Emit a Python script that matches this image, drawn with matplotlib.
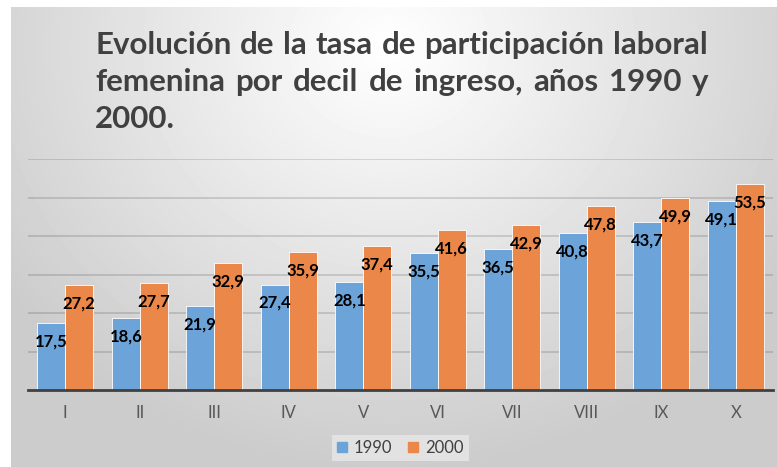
import numpy as np
import matplotlib.pyplot as plt
from matplotlib.patches import Patch

# Datos
deciles = ['I', 'II', 'III', 'IV', 'V', 'VI', 'VII', 'VIII', 'IX', 'X']
tasa_1990 = [17.5, 18.6, 21.9, 27.4, 28.1, 35.5, 36.5, 40.8, 43.7, 49.1]
tasa_2000 = [27.2, 27.7, 32.9, 35.9, 37.4, 41.6, 42.9, 47.8, 49.9, 53.5]
series = ['1990', '2000']
titulo = ['Evolución de la tasa de participación laboral',
          'femenina por decil de ingreso, años 1990 y',
          '2000.']

azul = '#6ca4d9'
naranja = '#eb8748'
W, H = 777, 467

fig = plt.figure(figsize=(W / 100, H / 100), dpi=100)
fig.patch.set_facecolor('white')

# Fondo con degradado radial
bg = fig.add_axes([0, 0, 1, 1])
bg.set_xlim(0, W)
bg.set_ylim(H, 0)
bg.axis('off')
yy, xx = np.mgrid[7:H, 11:W]
d = np.sqrt(((xx / W - 0.5) / 0.6) ** 2 + ((yy / H - 0.1) / 0.9) ** 2)
v = 1 - 0.2 * np.clip(d, 0, 1)
bg.imshow(v, cmap='gray', vmin=0, vmax=1, extent=(11, W, H, 7),
          aspect='auto', interpolation='bilinear')

# Grafico de barras
ax = fig.add_axes([28 / W, (H - 390) / H, (773 - 28) / W, (390 - 159) / H])
ax.set_facecolor('none')
x = np.arange(len(deciles))
w = 0.375
b1 = ax.bar(x - w / 2, tasa_1990, w, color=azul, edgecolor='white', linewidth=0.6, zorder=3)
b2 = ax.bar(x + w / 2, tasa_2000, w, color=naranja, edgecolor='white', linewidth=0.6, zorder=3)

for bars, vals in [(b1, tasa_1990), (b2, tasa_2000)]:
    for r, val in zip(bars, vals):
        ax.annotate(f'{val:.1f}'.replace('.', ','),
                    (r.get_x() + r.get_width() / 2, val),
                    xytext=(0, -18.5), textcoords='offset pixels',
                    ha='center', va='center', fontsize=12,
                    fontweight='bold', family='Lato', color='black', zorder=4)

ax.set_xlim(-0.5, len(deciles) - 0.5)
ax.set_ylim(0, 60)
ax.set_yticks(np.arange(10, 61, 10))
ax.yaxis.grid(True, color='black', alpha=0.14, linewidth=1.3)
ax.set_axisbelow(True)
ax.tick_params(axis='y', left=False, labelleft=False)
ax.tick_params(axis='x', length=0, pad=11)
ax.set_xticks(x)
ax.set_xticklabels(deciles, fontsize=12, family='Lato', color='#595959')
for s in ['top', 'left', 'right']:
    ax.spines[s].set_visible(False)
ax.spines['bottom'].set_color('#404040')
ax.spines['bottom'].set_linewidth(2)
ax.spines['bottom'].set_zorder(5)

# Leyenda
handles = [Patch(color=azul, label=series[0]), Patch(color=naranja, label=series[1])]
leg = fig.legend(handles=handles, loc='center', bbox_to_anchor=(400 / W, 1 - 448 / H),
                 ncol=2, frameon=True, fancybox=False, handlelength=0.6,
                 handleheight=0.6, handletextpad=0.4, columnspacing=1.0,
                 prop={'family': 'Lato', 'size': 12}, borderpad=0.3)
leg.get_frame().set_facecolor('#e2e2e2')
leg.get_frame().set_edgecolor('none')
leg.get_frame().set_alpha(1)
for t in leg.get_texts():
    t.set_color('#404040')

# Titulo justificado
renderer = fig.canvas.get_renderer()
x0, x1 = 95, 708
ys = [45, 82, 119]
for i, (linea, ylin) in enumerate(zip(titulo, ys)):
    palabras = linea.split(' ')
    textos = []
    for p in palabras:
        t = bg.text(0, ylin, p, fontsize=22.5, fontweight='bold', family='Lato',
                    color='#404040', va='center', ha='left')
        textos.append(t)
    anchos = [t.get_window_extent(renderer).width for t in textos]
    if i < len(titulo) - 1 and len(palabras) > 1:
        hueco = (x1 - x0 - sum(anchos)) / (len(palabras) - 1)
    else:
        hueco = 7
    pos = x0
    for t, a in zip(textos, anchos):
        t.set_x(pos)
        pos += a + hueco

fig.savefig('out.png', dpi=100)
